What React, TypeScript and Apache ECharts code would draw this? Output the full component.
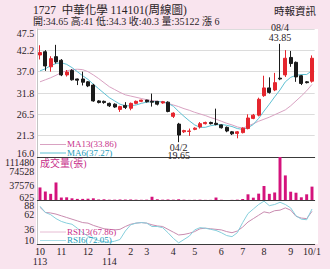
import React, { useEffect, useRef } from "react";
import * as echarts from "echarts";

// ---- data ----
const weeks = [
  "113/10/1", "113/10/2", "113/10/3", "113/10/4", "113/11/1", "113/11/2", "113/11/3", "113/11/4", "113/11/5", "113/12/1",
  "113/12/2", "113/12/3", "113/12/4", "114/01/1", "114/01/2", "114/01/3", "114/01/4", "114/02/1", "114/02/2", "114/02/3",
  "114/03/1", "114/03/2", "114/03/3", "114/03/4", "114/03/5", "114/04/1", "114/04/2", "114/04/3", "114/04/4", "114/05/1",
  "114/05/2", "114/05/3", "114/05/4", "114/05/5", "114/06/1", "114/06/2", "114/06/3", "114/06/4", "114/07/1", "114/07/2",
  "114/07/3", "114/07/4", "114/08/1", "114/08/2", "114/08/3", "114/08/4", "114/08/5", "114/09/1", "114/09/2", "114/09/3",
  "114/09/4", "114/10/1",
];
const axisMonthLabels = [
  "10\n113", "", "", "", "11", "", "", "", "", "12",
  "", "", "", "1\n114", "", "", "", "2", "", "",
  "3", "", "", "", "", "4", "", "", "", "5",
  "", "", "", "", "6", "", "", "", "7", "",
  "", "", "8", "", "", "", "", "9", "", "",
  "", "10/1",
];
const opens = [
  41.1, 41.9, 38.2, 40.7, 39.8, 36.2, 37.3, 35.2, 35.2, 34.5,
  33.7, 29.8, 29.7, 29.2, 29.0, 27.7, 28.7, 28.0, 29.2, 29.7,
  30.0, 29.7, 29.7, 29.3, 29.5, 26.0, 24.1, 22.2, 22.3, 22.8,
  23.4, 24.2, 24.5, 24.3, 23.9, 23.3, 22.2, 21.8, 22.0, 23.0,
  25.5, 26.3, 31.1, 33.0, 32.5, 35.4, 36.2, 40.5, 39.3, 36.0,
  34.5, 34.65,
];
const closes = [
  41.7, 38.4, 40.2, 39.4, 36.2, 36.9, 35.0, 34.9, 34.4, 33.5,
  29.8, 29.4, 29.4, 28.6, 28.3, 28.4, 28.2, 29.2, 29.7, 30.0,
  29.6, 29.5, 29.0, 29.6, 27.2, 26.8, 21.4, 22.5, 22.4, 23.1,
  24.2, 24.5, 24.2, 24.0, 23.2, 22.4, 21.7, 22.2, 23.1, 25.6,
  26.3, 30.2, 33.0, 31.9, 34.3, 35.2, 40.3, 39.0, 35.7, 34.1,
  34.3, 40.3,
];
const highs = [
  43.5, 42.3, 40.8, 43.6, 40.1, 37.4, 37.6, 35.3, 37.0, 34.7,
  34.0, 30.0, 29.9, 29.4, 29.2, 28.6, 29.5, 29.4, 29.9, 30.1,
  30.1, 31.6, 29.8, 29.8, 29.7, 27.0, 24.4, 22.7, 23.0, 23.3,
  24.6, 24.7, 24.7, 27.9, 24.0, 23.5, 22.4, 22.4, 23.3, 26.5,
  26.6, 30.6, 36.0, 35.6, 36.7, 43.85, 42.3, 42.1, 39.5, 36.2,
  34.7, 41,
];
const lows = [
  40.0, 37.2, 37.0, 39.0, 35.9, 35.8, 34.8, 33.7, 33.6, 33.2,
  29.6, 29.2, 29.1, 28.3, 28.1, 27.1, 27.8, 27.5, 29.0, 29.5,
  29.4, 28.4, 28.7, 29.1, 27.0, 25.6, 19.65, 21.9, 21.2, 22.6,
  23.0, 24.0, 24.0, 23.8, 23.0, 22.1, 21.4, 20.6, 21.8, 22.8,
  25.3, 26.0, 30.8, 31.6, 32.2, 34.9, 35.7, 38.2, 34.5, 33.7,
  34.1, 34.3,
];
const volumes = [
  33000, 22500, 16500, 45800, 7000, 7500, 5000, 3500, 3500, 4000,
  5000, 2000, 2500, 1500, 1500, 2000, 1800, 2000, 1500, 1200,
  1500, 9000, 2500, 1500, 2000, 1500, 2500, 1500, 1000, 1200,
  1500, 1000, 1000, 7000, 1200, 625, 1000, 1500, 3200, 15300,
  6600, 17000, 36700, 16500, 20000, 111480, 64000, 22000, 19400, 7600,
  15300, 35122,
];
const ma13 = [
  34.5, 35.0, 35.5, 36.1, 36.8, 37.2, 37.5, 37.6, 37.5, 37.0,
  36.2, 35.3, 34.3, 33.3, 32.6, 31.9, 31.3, 31.0, 30.7, 30.4,
  30.1, 29.9, 29.7, 29.5, 29.2, 28.8, 28.4, 27.9, 27.5, 27.0,
  26.6, 26.2, 25.7, 25.3, 24.8, 24.3, 23.9, 23.4, 23.1, 23.6,
  24.2, 24.8, 25.3, 25.8, 26.4, 27.0, 27.6, 28.6, 29.8, 31.0,
  32.3, 33.86,
];
const ma6 = [
  37.2, 37.7, 38.5, 39.0, 39.2, 38.8, 38.0, 37.0, 36.0, 35.1,
  33.9, 32.8, 31.7, 30.6, 29.8, 29.0, 28.6, 28.6, 28.8, 29.2,
  29.5, 29.6, 29.6, 29.6, 29.2, 28.5, 27.2, 26.0, 24.9, 23.9,
  23.3, 23.3, 23.7, 23.9, 24.0, 23.8, 23.5, 23.0, 22.8, 23.2,
  24.0, 25.5, 27.3, 29.0, 30.8, 32.5, 34.5, 35.6, 36.1, 36.3,
  36.3, 37.27,
];
const rsi13 = [
  75, 66, 65, 63, 60, 57, 54, 51, 48, 47,
  43, 40, 37, 36, 35, 36, 41, 45, 47, 48,
  47, 44, 42, 41, 36, 31, 26, 27, 29, 32,
  37, 38, 37, 36, 35, 32, 30, 33, 40, 49,
  55, 61, 67, 65, 69, 70, 74, 70, 59, 56,
  55, 67.86,
];
const rsi6 = [
  77, 66, 62, 55, 50, 47, 45, 38, 30, 24,
  20, 16, 14, 13, 15, 18, 33, 44, 47, 48,
  47, 41, 41, 39, 30, 20, 12, 18, 24, 35,
  39, 38, 36, 34, 30, 25, 23, 30, 48, 64,
  72, 80, 86, 78, 80, 84, 80, 74, 60, 54,
  53, 72.05,
];
const priceTickLabels = ["16.0", "21.3", "26.5", "31.8", "37.0", "42.2", "47.5"];
const volumeTickLabels = ["625", "37576", "74528", "111480"];
const rsiTickLabels = ["10", "36", "62", "88"];
const priceRange = [16, 47.5];
const volumeRange = [625, 111480];
const rsiRange = [10, 88];

const headerTitle = "1727  中華化學 114101(周線圖)";
const headerQuote = "開:34.65 高:41 低:34.3 收:40.3 量:35122 漲 6";
const headerSource = "時報資訊";
const legendMA13 = "MA13(33.86)";
const legendMA6 = "MA6(37.27)";
const legendVolume = "成交量(張)";
const legendRSI13 = "RSI13(67.86)";
const legendRSI6 = "RSI6(72.05)";

// ---- styles ----
const SERIF = '"Liberation Serif", "Noto Sans CJK TC", serif';
const BG = "#f9e4ee";
const TXT = "#2a2326";
const RED = "#e5262e";
const BLACK = "#1b1b1b";
const MAGENTA = "#d4137c";
const MA13_LINE = "#d9a2c2";
const MA6_LINE = "#5fc1d3";
const MA13_TXT = "#c8308a";
const MA6_TXT = "#1d9cb8";

const GL = 37.33;
const GR = 15.33;

const richBase = { fontFamily: SERIF, fontSize: 10, color: TXT };

// middle tick labels only (min / max are drawn by an overlay axis that can shift them inward)
function middleFormatter(labels: string[], range: number[]) {
  const step = (range[1] - range[0]) / (labels.length - 1);
  return (v: number) => {
    const k = Math.round((v - range[0]) / step);
    if (k <= 0 || k >= labels.length - 1) return "";
    return labels[k] ?? "";
  };
}
function endFormatter(labels: string[], range: number[]) {
  const step = (range[1] - range[0]) / (labels.length - 1);
  return (v: number) => {
    const k = Math.round((v - range[0]) / step);
    if (k === 0) return `{lo|${labels[0]}}`;
    if (k === labels.length - 1) return `{hi|${labels[labels.length - 1]}}`;
    return "";
  };
}

function legendText(text: string, x: number, y: number, fill: string, size: number) {
  return {
    type: "text",
    x,
    y,
    silent: true,
    z: 5,
    style: { text, fill, font: `${size}px ${SERIF}`, verticalAlign: "middle", textVerticalAlign: "middle" },
  };
}
function legendKey(x1: number, x2: number, y: number, stroke: string) {
  return { type: "line", silent: true, z: 5, shape: { x1, y1: y, x2, y2: y }, style: { stroke, lineWidth: 1 } };
}

export default function App() {
  const ref = useRef<HTMLDivElement>(null);
  useEffect(() => {
    if (!ref.current) return;
    const chart = echarts.init(ref.current, null, { renderer: "svg" });
    const candleData = weeks.map((_, i) => [opens[i], closes[i], lows[i], highs[i]]);
    const hiIdx = 45;
    const loIdx = 26;
    const grids = [
      { left: GL, right: GR, top: 29, height: 128 },
      { left: GL, right: GR, top: 157, height: 43 },
      { left: GL, right: GR, top: 200, height: 44 },
    ];
    const xAxisBase = (gi: number) => ({
      type: "category",
      gridIndex: gi,
      data: weeks,
      boundaryGap: true,
      axisTick: { show: false },
      axisLine: { show: true, onZero: false, lineStyle: { color: "#3a3a3a", width: 1 } },
      axisLabel: { show: false },
      splitLine: { show: false },
    });
    const yLabel = { color: TXT, fontSize: 10, fontFamily: SERIF, margin: 3 };
    const axisSpecs = [
      { labels: priceTickLabels, range: priceRange, hi: 8, lo: 8, split: true },
      { labels: volumeTickLabels, range: volumeRange, hi: 11, lo: 6, split: false },
      { labels: rsiTickLabels, range: rsiRange, hi: 10, lo: 8, split: false },
    ];
    const mainY = axisSpecs.map((s, gi) => ({
      type: "value",
      gridIndex: gi,
      position: "left",
      min: s.range[0],
      max: s.range[1],
      interval: (s.range[1] - s.range[0]) / (s.labels.length - 1),
      axisTick: { show: false },
      axisLine: { show: true, lineStyle: { color: "#c4c4c4", width: 1 } },
      splitLine: { show: s.split, lineStyle: { color: "#dcdcdc", width: 1 } },
      axisLabel: { ...yLabel, showMinLabel: false, showMaxLabel: false, formatter: middleFormatter(s.labels, s.range) },
    }));
    const endY = axisSpecs.map((s, gi) => ({
      type: "value",
      gridIndex: gi,
      position: "left",
      offset: 0,
      min: s.range[0],
      max: s.range[1],
      interval: (s.range[1] - s.range[0]) / (s.labels.length - 1),
      axisTick: { show: false },
      axisLine: { show: false },
      splitLine: { show: false },
      axisLabel: {
        ...yLabel,
        showMinLabel: true,
        showMaxLabel: true,
        formatter: endFormatter(s.labels, s.range),
        rich: {
          hi: { ...richBase, padding: [s.hi, 0, 0, 0] },
          lo: { ...richBase, padding: [0, 0, s.lo, 0] },
        },
      },
    }));
    const option: any = {
      animation: false,
      backgroundColor: BG,
      grid: grids,
      xAxis: [
        xAxisBase(0),
        xAxisBase(1),
        {
          ...xAxisBase(2),
          axisLabel: {
            show: true,
            interval: 0,
            color: TXT,
            fontSize: 10,
            lineHeight: 9.5,
            fontFamily: SERIF,
            margin: 3,
            formatter: (_v: string, i: number) => axisMonthLabels[i],
          },
        },
      ],
      yAxis: [...mainY, ...endY],
      series: [
        {
          type: "line",
          xAxisIndex: 0,
          yAxisIndex: 0,
          data: ma13,
          showSymbol: false,
          silent: true,
          lineStyle: { color: MA13_LINE, width: 1 },
          z: 2,
        },
        {
          type: "line",
          xAxisIndex: 0,
          yAxisIndex: 0,
          data: ma6,
          showSymbol: false,
          silent: true,
          lineStyle: { color: MA6_LINE, width: 1 },
          z: 2,
        },
        {
          type: "candlestick",
          xAxisIndex: 0,
          yAxisIndex: 0,
          data: candleData,
          barWidth: "62%",
          silent: true,
          z: 3,
          itemStyle: {
            color: RED,
            color0: BLACK,
            borderColor: RED,
            borderColor0: BLACK,
            borderWidth: 1,
          },
          markPoint: {
            symbol: "circle",
            symbolSize: 0,
            silent: true,
            label: {
              show: true,
              color: TXT,
              fontSize: 10,
              fontFamily: SERIF,
              distance: 1,
            },
            data: [
              {
                coord: [weeks[hiIdx], highs[hiIdx]],
                label: { position: "top", lineHeight: 10.5, formatter: `${weeks[hiIdx].slice(4)}\n${highs[hiIdx]}` },
              },
              {
                coord: [weeks[loIdx], lows[loIdx]],
                label: { position: "bottom", lineHeight: 8.5, formatter: `${weeks[loIdx].slice(4)}\n${lows[loIdx]}` },
              },
            ],
          },
        },
        {
          type: "bar",
          xAxisIndex: 1,
          yAxisIndex: 1,
          data: volumes,
          barWidth: "55%",
          silent: true,
          itemStyle: { color: MAGENTA },
        },
        {
          type: "line",
          xAxisIndex: 2,
          yAxisIndex: 2,
          data: rsi13,
          showSymbol: false,
          silent: true,
          lineStyle: { color: "#c98cb0", width: 1 },
        },
        {
          type: "line",
          xAxisIndex: 2,
          yAxisIndex: 2,
          data: rsi6,
          showSymbol: false,
          silent: true,
          lineStyle: { color: "#86cfdc", width: 1 },
        },
      ],
      graphic: [
        {
          type: "rect",
          z: -10,
          silent: true,
          shape: { x: 36, y: 29, width: 282, height: 215 },
          style: { fill: "#ffffff" },
        },
        legendText(headerTitle, 33, 9.5, TXT, 11.5),
        legendText(headerQuote, 33, 21, TXT, 10),
        legendText(headerSource, 274, 11, TXT, 10.5),
        legendKey(40, 66, 144.5, MA13_LINE),
        legendText(legendMA13, 67, 143.8, MA13_TXT, 9),
        legendKey(40, 66, 153, MA6_LINE),
        legendText(legendMA6, 67, 152.8, MA6_TXT, 9),
        legendText(legendVolume, 40, 163, MA13_TXT, 10),
        legendKey(40, 66, 232, "#e6bcd3"),
        legendText(legendRSI13, 67, 231.5, MA13_TXT, 9),
        legendKey(40, 66, 240.5, "#a9dde7"),
        legendText(legendRSI6, 67, 240.3, MA6_TXT, 9),
      ],
    };
    chart.setOption(option);
    return () => chart.dispose();
  }, []);
  return (
    <div
      ref={ref}
      style={{ position: "fixed", left: 0, top: 0, width: 330, height: 269, background: BG }}
    />
  );
}
